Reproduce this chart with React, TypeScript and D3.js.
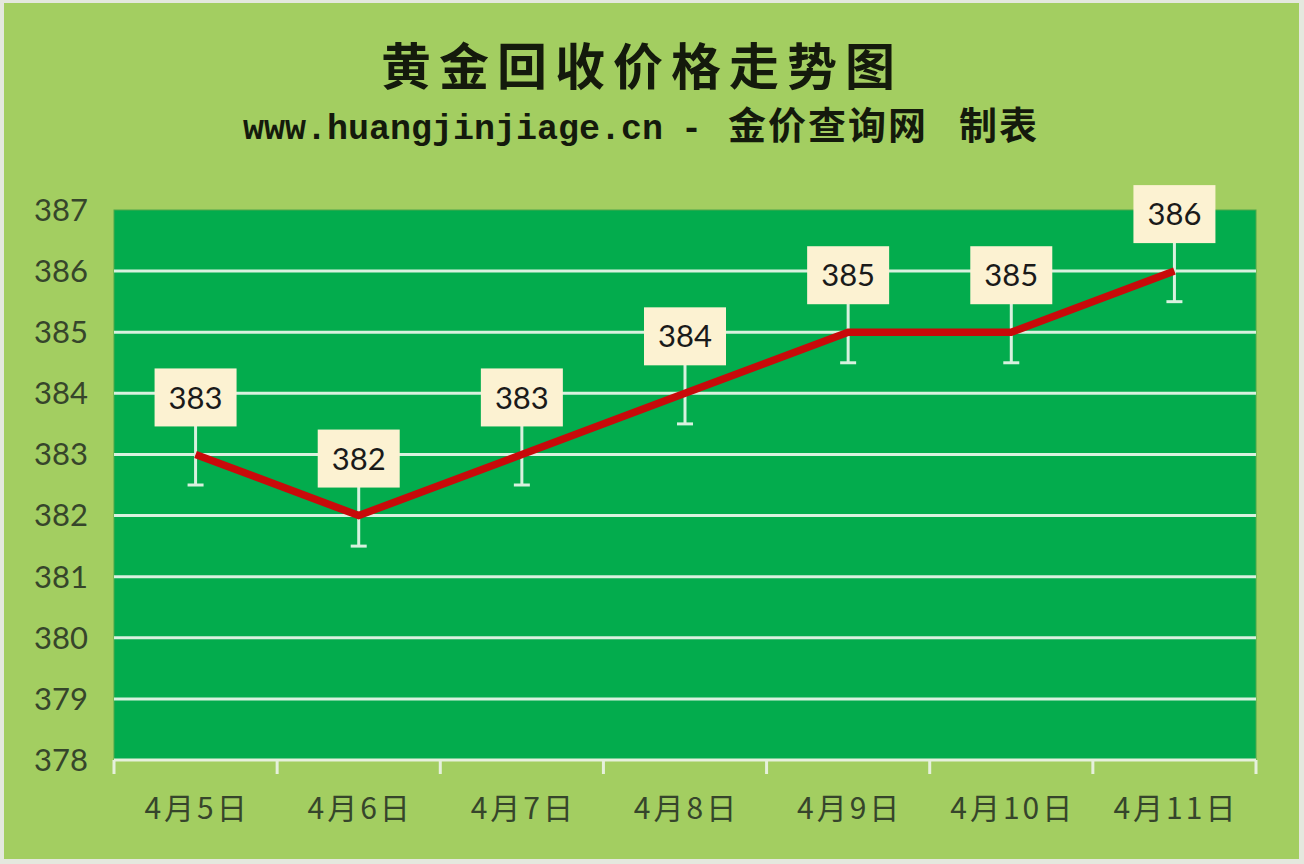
import React from "react";
import * as d3 from "d3";

const categories = ["4月5日", "4月6日", "4月7日", "4月8日", "4月9日", "4月10日", "4月11日"];
const prices = [383, 382, 383, 384, 385, 385, 386];
const yTicks = [378, 379, 380, 381, 382, 383, 384, 385, 386, 387];
const errorAmount = 0.5;
const titleText = "黄金回收价格走势图";
const subtitleParts = ["www.huangjinjiage.cn", "-", "金价查询网", "制表"];

const W = 1304;
const H = 864;
const plot = { left: 114, right: 1256, top: 210, bottom: 760 };

export default function App() {
  const x = d3
    .scaleBand<string>()
    .domain(categories)
    .range([plot.left, plot.right])
    .padding(0);
  const y = d3.scaleLinear().domain([378, 387]).range([plot.bottom, plot.top]);
  const cx = (c: string) => (x(c) as number) + x.bandwidth() / 2;
  const data = categories.map((c, i) => ({ c, v: prices[i] }));
  const line = d3
    .line<{ c: string; v: number }>()
    .x((d) => cx(d.c))
    .y((d) => y(d.v));
  const boundaries = [...categories.map((c) => x(c) as number), plot.right];

  const tickColor = "#36452b";
  const gridColor = "#d9f1df";
  const labelW = 82;
  const labelH = 58;

  return (
    <div>
      <style>{`body{margin:0}`}</style>
      <svg width={W} height={H} style={{ display: "block" }}>
        <rect x={0} y={0} width={W} height={H} fill="#e4e8de" />
        <rect x={4} y={3} width={W - 9} height={H - 8} fill="#a3ce61" />
        <text
          x={642}
          y={85}
          textAnchor="middle"
          fontFamily="'Noto Sans CJK SC', sans-serif"
          fontWeight={700}
          fontSize={50}
          letterSpacing={8}
          fill="#141a0c"
        >
          {titleText}
        </text>
        <text
          y={139}
          fontFamily="'Liberation Mono', 'Noto Sans CJK SC', monospace"
          fontWeight={700}
          fontSize={35}
          fill="#141a0c"
        >
          <tspan x={243} textLength={420} lengthAdjust="spacing">{subtitleParts[0]}</tspan>
          <tspan x={681}>{subtitleParts[1]}</tspan>
          <tspan x={728} fontSize={38} letterSpacing={2} fontFamily="'Noto Sans CJK SC', sans-serif">{subtitleParts[2]}</tspan>
          <tspan x={959} fontSize={38} letterSpacing={2} fontFamily="'Noto Sans CJK SC', sans-serif">{subtitleParts[3]}</tspan>
        </text>
        <rect
          x={plot.left}
          y={plot.top}
          width={plot.right - plot.left}
          height={plot.bottom - plot.top}
          fill="#03ac4d"
          stroke="#4da84a"
          strokeWidth={1}
        />
        {yTicks
          .filter((t) => t !== 378 && t !== 387)
          .map((t) => (
            <line
              key={"g" + t}
              x1={plot.left}
              x2={plot.right}
              y1={y(t)}
              y2={y(t)}
              stroke={gridColor}
              strokeWidth={3}
            />
          ))}
        <line
          x1={plot.left}
          x2={plot.right}
          y1={plot.bottom}
          y2={plot.bottom}
          stroke="#e6f0dc"
          strokeWidth={3}
        />
        {boundaries.map((b, i) => (
          <line
            key={"t" + i}
            x1={b}
            x2={b}
            y1={plot.bottom}
            y2={plot.bottom + 14}
            stroke="#e6f0dc"
            strokeWidth={3}
          />
        ))}
        {yTicks.map((t) => (
          <text
            key={"yl" + t}
            x={88}
            y={y(t)}
            dy="0.35em"
            textAnchor="end"
            fontFamily="Lato, 'Open Sans', sans-serif"
            fontSize={31}
            fill={tickColor}
          >
            {t}
          </text>
        ))}
        {categories.map((c) => (
          <text
            key={"xl" + c}
            x={cx(c) + 1.5}
            y={819}
            textAnchor="middle"
            fontFamily="'Noto Sans CJK SC', sans-serif"
            fontSize={30}
            letterSpacing={3}
            fill={tickColor}
          >
            {c}
          </text>
        ))}
        {data.map((d) => (
          <g key={"e" + d.c}>
            <line
              x1={cx(d.c)}
              x2={cx(d.c)}
              y1={y(d.v + errorAmount)}
              y2={y(d.v - errorAmount)}
              stroke={gridColor}
              strokeWidth={3}
            />
            <line
              x1={cx(d.c) - 8}
              x2={cx(d.c) + 8}
              y1={y(d.v - errorAmount)}
              y2={y(d.v - errorAmount)}
              stroke={gridColor}
              strokeWidth={3}
            />
          </g>
        ))}
        <path
          d={line(data) || ""}
          fill="none"
          stroke="#c80a0a"
          strokeWidth={7.5}
          strokeLinejoin="miter"
        />
        {data.map((d) => (
          <g key={"l" + d.c}>
            <rect
              x={cx(d.c) - labelW / 2}
              y={y(d.v) - 28 - labelH}
              width={labelW}
              height={labelH}
              fill="#fcf2d2"
            />
            <text
              x={cx(d.c)}
              y={y(d.v) - 28 - labelH / 2}
              dy="0.36em"
              textAnchor="middle"
              fontFamily="Lato, 'Open Sans', sans-serif"
              fontSize={31}
              fill="#1a1a1a"
            >
              {d.v}
            </text>
          </g>
        ))}
      </svg>
    </div>
  );
}
